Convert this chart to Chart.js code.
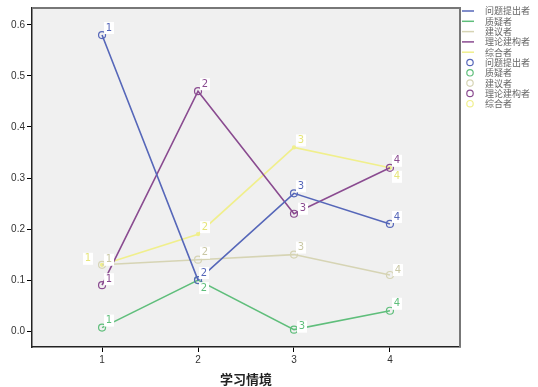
<!DOCTYPE html>
<html>
<head>
<meta charset="utf-8">
<script src="https://cdn.jsdelivr.net/npm/chart.js@4"></script>
<style>
  html, body { margin: 0; padding: 0; background: #fff; }
  #wrap { width: 538px; height: 387px; }
</style>
</head>
<body>
<div id="wrap"><canvas id="myChart"></canvas></div>
<script>
const situations = [1, 2, 3, 4];
const seriesNames = ['问题提出者', '质疑者', '建议者', '理论建构者', '综合者'];
const questioner = [0.58, 0.10, 0.27, 0.21];
const doubter = [0.007, 0.10, 0.003, 0.04];
const suggester = [0.13, 0.14, 0.15, 0.11];
const theorist = [0.09, 0.47, 0.23, 0.32];
const synthesizer = [0.13, 0.19, 0.36, 0.32];
const yTicks = [0, 0.1, 0.2, 0.3, 0.4, 0.5, 0.6];

const colors = ['#5667b9', '#5fbe7b', '#d6d4b4', '#8a4b90', '#f0ef8c'];
const labelColors = ['#5667b9', '#5fbe7b', '#c9c7a4', '#8a4b90', '#e6e57a'];
const allSeries = [questioner, doubter, suggester, theorist, synthesizer];

// label offsets from the point (dx, dy) keyed 'pointIndex-seriesIndex', default upper right
const labelOffset = {
  '1-1': [6, 8], '3-2': [8, -5], '3-4': [7, 9], '2-1': [8, -3], '2-3': [9, -5],
  '0-4': [-14, -6], '0-2': [7, -5], '1-0': [6, -7], '0-3': [7, -6]
};

const datasets = seriesNames.map((name, i) => ({
  label: name,
  data: situations.map((s, j) => ({ x: s, y: allSeries[i][j] })),
  borderColor: colors[i],
  backgroundColor: 'rgba(0,0,0,0)',
  borderWidth: 1.6,
  pointRadius: i === 4 ? 1.5 : 3.5,
  pointBorderWidth: 1.2,
  pointBorderColor: colors[i],
  pointBackgroundColor: i === 4 ? colors[i] : 'rgba(0,0,0,0)',
  tension: 0
}));

const framePlugin = {
  id: 'frame',
  beforeDraw(chart) {
    const { ctx, chartArea: a } = chart;
    ctx.save();
    ctx.fillStyle = '#f0f0f0';
    ctx.fillRect(a.left, a.top, a.right - a.left, a.bottom - a.top);
    ctx.restore();
  },
  afterDraw(chart) {
    const { ctx, chartArea: a } = chart;
    ctx.save();
    ctx.strokeStyle = '#777';
    ctx.lineWidth = 2;
    ctx.beginPath();
    ctx.moveTo(a.left, a.top);
    ctx.lineTo(a.right, a.top);
    ctx.lineTo(a.right, a.bottom);
    ctx.stroke();
    ctx.restore();
  }
};

const pointLabels = {
  id: 'pointLabels',
  afterDatasetsDraw(chart) {
    const ctx = chart.ctx;
    ctx.save();
    ctx.font = '10px "DejaVu Sans", sans-serif';
    ctx.textAlign = 'center';
    ctx.textBaseline = 'middle';
    chart.data.datasets.forEach((ds, i) => {
      chart.getDatasetMeta(i).data.forEach((pt, j) => {
        const off = labelOffset[j + '-' + i] || [7, -7];
        const x = pt.x + off[0], y = pt.y + off[1];
        ctx.fillStyle = '#ffffff';
        ctx.fillRect(x - 5, y - 6, 10, 12);
        ctx.fillStyle = labelColors[i];
        ctx.fillText(String(situations[j]), x, y);
      });
    });
    ctx.restore();
  }
};

const sideLegend = {
  id: 'sideLegend',
  afterDraw(chart) {
    const ctx = chart.ctx;
    ctx.save();
    ctx.font = '9px "Noto Sans CJK SC", sans-serif';
    ctx.textBaseline = 'middle';
    const step = 10.3;
    seriesNames.forEach((name, i) => {
      const y = 11 + i * step;
      ctx.strokeStyle = colors[i];
      ctx.lineWidth = 1.5;
      ctx.beginPath();
      ctx.moveTo(462, y);
      ctx.lineTo(474, y);
      ctx.stroke();
      ctx.fillStyle = '#666';
      ctx.fillText(name, 485, y);
    });
    seriesNames.forEach((name, i) => {
      const y = 11 + (i + 5) * step;
      ctx.strokeStyle = colors[i];
      ctx.lineWidth = 1.2;
      ctx.beginPath();
      ctx.arc(470, y, 3.2, 0, Math.PI * 2);
      ctx.stroke();
      ctx.fillStyle = '#666';
      ctx.fillText(name, 485, y);
    });
    ctx.restore();
  }
};

new Chart(document.getElementById('myChart'), {
  type: 'line',
  data: { datasets },
  options: {
    responsive: true,
    maintainAspectRatio: false,
    animation: false,
    layout: { padding: { top: 5, right: 78, left: 0, bottom: 0 } },
    plugins: {
      legend: { display: false },
      tooltip: { enabled: false }
    },
    scales: {
      x: {
        type: 'linear',
        min: 0.27,
        max: 4.73,
        afterBuildTicks: (scale) => { scale.ticks = situations.map(v => ({ value: v })); },
        afterFit: (scale) => { scale.height = 40; },
        grid: { drawOnChartArea: false, tickLength: 5, color: '#000' },
        border: { color: '#222', width: 1.5 },
        ticks: { color: '#333', font: { size: 10, family: 'Arial, "Liberation Sans"' }, padding: 2 },
        title: {
          display: true,
          text: '学习情境',
          color: '#222',
          font: { size: 13, weight: 'bold', family: '"Noto Sans CJK SC"' },
          padding: { top: 0, bottom: 0 }
        }
      },
      y: {
        min: -0.031,
        max: 0.633,
        afterBuildTicks: (scale) => { scale.ticks = yTicks.map(v => ({ value: v })); },
        afterFit: (scale) => { scale.width = 32; },
        grid: { drawOnChartArea: false, tickLength: 5, color: '#000' },
        border: { color: '#222', width: 1.5 },
        ticks: {
          color: '#333',
          font: { size: 10, family: 'Arial, "Liberation Sans"' },
          padding: 2,
          callback: (v) => v.toFixed(1)
        }
      }
    }
  },
  plugins: [framePlugin, pointLabels, sideLegend]
});
</script>
</body>
</html>
